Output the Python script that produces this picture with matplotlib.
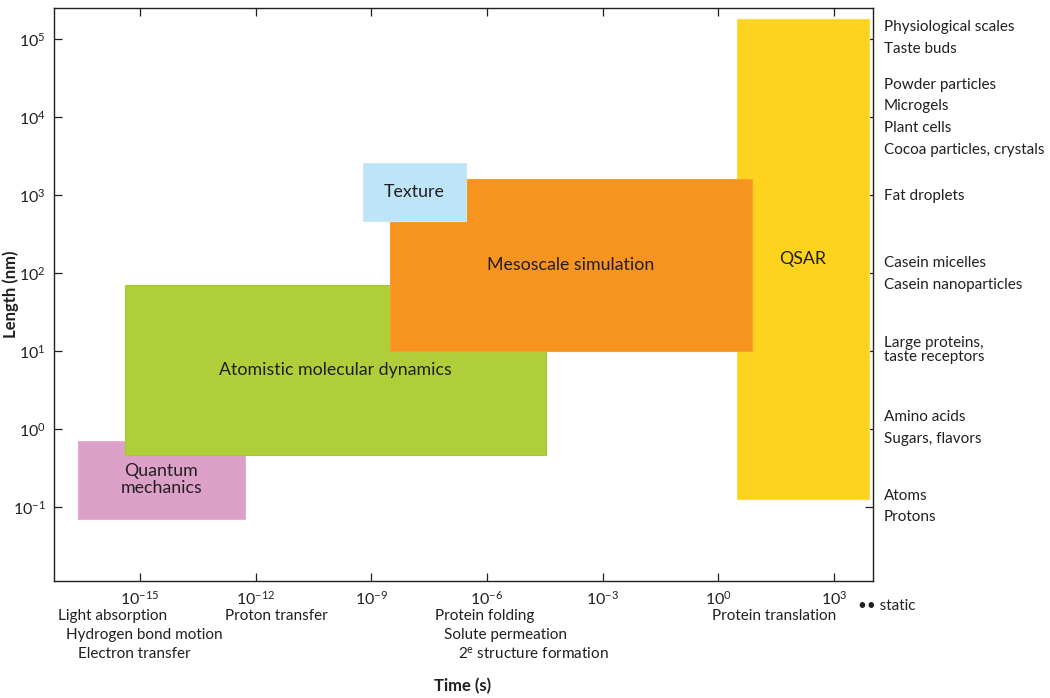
import matplotlib
matplotlib.use('Agg')
import matplotlib.pyplot as plt
from matplotlib.patches import Rectangle

plt.rcParams['font.family'] = ['Lato', 'DejaVu Sans']
plt.rcParams['mathtext.fontset'] = 'custom'
plt.rcParams['mathtext.rm'] = 'Lato'
plt.rcParams['mathtext.default'] = 'regular'

# modelling regions: time span (s) and length span (nm)
region_names = ['Quantum\nmechanics', 'QSAR', 'Atomistic molecular dynamics',
                'Mesoscale simulation', 'Texture']
time_lo = [2.5e-17, 3.0, 4.1e-16, 3.0e-9, 5.9e-10]
time_hi = [5.2e-13, 8.1e3, 3.3e-5, 7.6, 2.8e-7]
len_lo = [0.071, 0.126, 0.46, 10, 470]
len_hi = [0.71, 1.8e5, 71, 1600, 2600]
region_colors = ['#dda0c8', '#fdd31d', '#afce39', '#f7941f', '#bde4f7']
region_edges = ['#e3b0d2', '#fcdc4a', '#a2c830', '#f9a035', '#c9e9f9']

x_exps = [-15, -12, -9, -6, -3, 0, 3]
y_exps = [-1, 0, 1, 2, 3, 4, 5]

# length scale examples (right side), y in nm
size_labels = ['Physiological scales', 'Taste buds', 'Powder particles', 'Microgels',
               'Plant cells', 'Cocoa particles, crystals', 'Fat droplets',
               'Casein micelles', 'Casein nanoparticles', 'Large proteins,\ntaste receptors',
               'Amino acids', 'Sugars, flavors', 'Atoms', 'Protons']
size_pos = [1.44e5, 7.5e4, 2.62e4, 1.39e4, 7.3e3, 3.8e3, 9.8e2,
            1.35e2, 7.1e1, 10.2, 1.43, 0.75, 0.139, 0.075]

# time scale examples (below the axis): text, left pixel x, pixel y
time_labels = ['Light absorption', 'Hydrogen bond motion', 'Electron transfer',
               'Proton transfer', 'Protein folding', 'Solute permeation',
               '2$^{e}$ structure formation', 'Protein translation', '\u2022\u2022 static']
time_px = [58, 66, 78, 225, 435, 444, 458, 712, 858]
time_py = [616, 635, 654, 616, 616, 635, 654, 616, 606]

W, H = 1050, 698
fig = plt.figure(figsize=(10.5, 6.98), dpi=100)
ax = fig.add_axes([54 / W, 1 - 581 / H, (873 - 54) / W, (581 - 8) / H])
ax.set_xscale('log')
ax.set_yscale('log')
ax.set_xlim(10 ** -17.23, 10 ** 4.01)
ax.set_ylim(10 ** -1.95, 10 ** 5.40)

for i in range(len(region_names)):
    ax.add_patch(Rectangle((time_lo[i], len_lo[i]), time_hi[i] - time_lo[i],
                           len_hi[i] - len_lo[i], facecolor=region_colors[i],
                           edgecolor=region_edges[i], lw=0.8, zorder=2 + i))
    xc = (time_lo[i] * time_hi[i]) ** 0.5
    yc = (len_lo[i] * len_hi[i]) ** 0.5
    ax.text(xc, yc, region_names[i], ha='center', va='center', fontsize=12.8,
            color='#231f20', linespacing=1.1, zorder=10)

ax.set_xticks([10.0 ** e for e in x_exps])
ax.set_xticklabels(['$10^{%d}$' % e for e in x_exps])
ax.set_yticks([10.0 ** e for e in y_exps])
ax.set_yticklabels(['$10^{%d}$' % e for e in y_exps])
ax.minorticks_off()
ax.tick_params(which='major', direction='in', length=6, width=0.9, top=True, right=True,
               labelsize=11.5, pad=6, color='#231f20', labelcolor='#231f20')
for s in ax.spines.values():
    s.set_linewidth(1.0)
    s.set_color('#231f20')

fig.text(11 / W, 1 - 294 / H, 'Length (nm)', fontsize=12, fontweight='bold',
         rotation=90, ha='center', va='center', color='#231f20')
fig.text(463 / W, 1 - 686 / H, 'Time (s)', fontsize=12, fontweight='bold',
         ha='center', va='center', color='#231f20')

for lab, y in zip(size_labels, size_pos):
    ax.text(1.0 + 11 / 819, y, lab, transform=ax.get_yaxis_transform(), ha='left',
            va='center', fontsize=11, color='#231f20', linespacing=1.0)

for lab, px, py in zip(time_labels, time_px, time_py):
    fig.text(px / W, 1 - py / H, lab, ha='left', va='center', fontsize=11,
             color='#231f20')

fig.savefig('out.png', dpi=100)
